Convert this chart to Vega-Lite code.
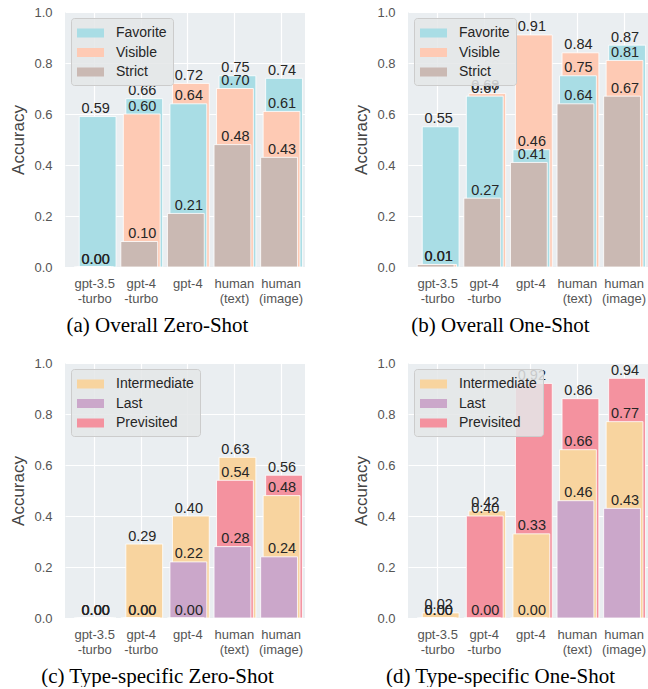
{
  "$schema": "https://vega.github.io/schema/vega-lite/v6.json",
  "padding": {"left": 9, "top": 6, "right": 0, "bottom": 0},
  "background": "white",
  "config": {
    "font": "Liberation Sans",
    "view": {"fill": "#EAEEF1", "stroke": null},
    "axis": {
      "domain": false, "ticks": false, "tickSize": 0, "grid": true, "gridColor": "white", "gridWidth": 1.2,
      "labelColor": "#555555", "labelFont": "Liberation Sans", "labelFontSize": 13,
      "titleColor": "#444444", "titleFont": "Liberation Sans", "titleFontWeight": "normal", "titleFontSize": 17
    },
    "legend": {
      "orient": "top-left", "offset": 6, "padding": 6, "cornerRadius": 3,
      "fillColor": "rgba(228,230,232,0.85)", "strokeColor": "#CCCCCC",
      "symbolType": "M-1,-0.5H2V0.5H-1Z", "symbolSize": 324, "symbolStrokeWidth": 0, "symbolOpacity": 1,
      "labelFont": "Liberation Sans", "labelFontSize": 14, "labelColor": "#262626", "labelOffset": 21,
      "rowPadding": 3.5, "title": null
    },
    "title": {"font": "Liberation Serif", "fontSize": 21, "fontWeight": "normal", "color": "black", "orient": "bottom", "frame": "bounds", "anchor": "middle", "offset": 10}
  },
  "data": {"values": [
    {"p": "a", "model": "gpt-3.5 -turbo", "series": "Favorite", "value": 0.59},
    {"p": "a", "model": "gpt-3.5 -turbo", "series": "Visible", "value": 0.00},
    {"p": "a", "model": "gpt-3.5 -turbo", "series": "Strict", "value": 0.00},
    {"p": "a", "model": "gpt-4 -turbo", "series": "Favorite", "value": 0.66},
    {"p": "a", "model": "gpt-4 -turbo", "series": "Visible", "value": 0.60},
    {"p": "a", "model": "gpt-4 -turbo", "series": "Strict", "value": 0.10},
    {"p": "a", "model": "gpt-4", "series": "Favorite", "value": 0.64},
    {"p": "a", "model": "gpt-4", "series": "Visible", "value": 0.72},
    {"p": "a", "model": "gpt-4", "series": "Strict", "value": 0.21},
    {"p": "a", "model": "human (text)", "series": "Favorite", "value": 0.75},
    {"p": "a", "model": "human (text)", "series": "Visible", "value": 0.70},
    {"p": "a", "model": "human (text)", "series": "Strict", "value": 0.48},
    {"p": "a", "model": "human (image)", "series": "Favorite", "value": 0.74},
    {"p": "a", "model": "human (image)", "series": "Visible", "value": 0.61},
    {"p": "a", "model": "human (image)", "series": "Strict", "value": 0.43},
    {"p": "b", "model": "gpt-3.5 -turbo", "series": "Favorite", "value": 0.55},
    {"p": "b", "model": "gpt-3.5 -turbo", "series": "Visible", "value": 0.01},
    {"p": "b", "model": "gpt-3.5 -turbo", "series": "Strict", "value": 0.01},
    {"p": "b", "model": "gpt-4 -turbo", "series": "Favorite", "value": 0.67},
    {"p": "b", "model": "gpt-4 -turbo", "series": "Visible", "value": 0.68},
    {"p": "b", "model": "gpt-4 -turbo", "series": "Strict", "value": 0.27},
    {"p": "b", "model": "gpt-4", "series": "Favorite", "value": 0.46},
    {"p": "b", "model": "gpt-4", "series": "Visible", "value": 0.91},
    {"p": "b", "model": "gpt-4", "series": "Strict", "value": 0.41},
    {"p": "b", "model": "human (text)", "series": "Favorite", "value": 0.75},
    {"p": "b", "model": "human (text)", "series": "Visible", "value": 0.84},
    {"p": "b", "model": "human (text)", "series": "Strict", "value": 0.64},
    {"p": "b", "model": "human (image)", "series": "Favorite", "value": 0.87},
    {"p": "b", "model": "human (image)", "series": "Visible", "value": 0.81},
    {"p": "b", "model": "human (image)", "series": "Strict", "value": 0.67},
    {"p": "c", "model": "gpt-3.5 -turbo", "series": "Intermediate", "value": 0.00},
    {"p": "c", "model": "gpt-3.5 -turbo", "series": "Last", "value": 0.00},
    {"p": "c", "model": "gpt-3.5 -turbo", "series": "Previsited", "value": 0.00},
    {"p": "c", "model": "gpt-4 -turbo", "series": "Intermediate", "value": 0.29},
    {"p": "c", "model": "gpt-4 -turbo", "series": "Last", "value": 0.00},
    {"p": "c", "model": "gpt-4 -turbo", "series": "Previsited", "value": 0.00},
    {"p": "c", "model": "gpt-4", "series": "Intermediate", "value": 0.40},
    {"p": "c", "model": "gpt-4", "series": "Last", "value": 0.22},
    {"p": "c", "model": "gpt-4", "series": "Previsited", "value": 0.00},
    {"p": "c", "model": "human (text)", "series": "Intermediate", "value": 0.63},
    {"p": "c", "model": "human (text)", "series": "Last", "value": 0.28},
    {"p": "c", "model": "human (text)", "series": "Previsited", "value": 0.54},
    {"p": "c", "model": "human (image)", "series": "Intermediate", "value": 0.48},
    {"p": "c", "model": "human (image)", "series": "Last", "value": 0.24},
    {"p": "c", "model": "human (image)", "series": "Previsited", "value": 0.56},
    {"p": "d", "model": "gpt-3.5 -turbo", "series": "Intermediate", "value": 0.02},
    {"p": "d", "model": "gpt-3.5 -turbo", "series": "Last", "value": 0.00},
    {"p": "d", "model": "gpt-3.5 -turbo", "series": "Previsited", "value": 0.00},
    {"p": "d", "model": "gpt-4 -turbo", "series": "Intermediate", "value": 0.42},
    {"p": "d", "model": "gpt-4 -turbo", "series": "Last", "value": 0.00},
    {"p": "d", "model": "gpt-4 -turbo", "series": "Previsited", "value": 0.40},
    {"p": "d", "model": "gpt-4", "series": "Intermediate", "value": 0.33},
    {"p": "d", "model": "gpt-4", "series": "Last", "value": 0.00},
    {"p": "d", "model": "gpt-4", "series": "Previsited", "value": 0.92},
    {"p": "d", "model": "human (text)", "series": "Intermediate", "value": 0.66},
    {"p": "d", "model": "human (text)", "series": "Last", "value": 0.46},
    {"p": "d", "model": "human (text)", "series": "Previsited", "value": 0.86},
    {"p": "d", "model": "human (image)", "series": "Intermediate", "value": 0.77},
    {"p": "d", "model": "human (image)", "series": "Last", "value": 0.43},
    {"p": "d", "model": "human (image)", "series": "Previsited", "value": 0.94}
  ]},
  "spacing": 21,
  "resolve": {"scale": {"color": "independent"}, "legend": {"color": "independent"}},
  "vconcat": [
    {
      "spacing": 47,
      "resolve": {"scale": {"color": "independent"}, "legend": {"color": "independent"}},
      "hconcat": [
        {
          "width": 240, "height": 255,
          "title": "(a) Overall Zero-Shot",
          "transform": [{"filter": "datum.p == 'a'"}, {"window": [{"op": "row_number", "as": "rk"}], "groupby": ["model"], "sort": [{"field": "value", "order": "descending"}]}],
          "encoding": {
            "x": {"field": "model", "type": "nominal", "sort": ["gpt-3.5 -turbo", "gpt-4 -turbo", "gpt-4", "human (text)", "human (image)"], "scale": {"paddingInner": 0.21, "paddingOuter": 0.18, "align": 0.67}, "axis": {"title": null, "labelAngle": 0, "labelPadding": 10, "labelLineHeight": 15, "bandPosition": 0.5, "labelExpr": "split(datum.label, ' ')"}},
            "y": {"field": "value", "type": "quantitative", "stack": null, "scale": {"domain": [0, 1]}, "axis": {"title": "Accuracy", "values": [0, 0.2, 0.4, 0.6, 0.8, 1.0], "format": ".1f", "labelPadding": 13, "titlePadding": 6}}
          },
          "layer": [
            {"mark": {"type": "bar", "stroke": "white", "strokeWidth": 1, "strokeOpacity": 0.8, "xOffset": {"expr": "5.5 - 2.5 * datum.rk"}},
             "encoding": {"color": {"field": "series", "type": "nominal", "scale": {"domain": ["Favorite", "Visible", "Strict"], "range": ["#A9DDE5", "#FECAB4", "#CAB9B3"]}, "legend": {"labelLimit": 61}}, "order": {"field": "value", "sort": "descending"}}},
            {"mark": {"type": "text", "align": "center", "baseline": "alphabetic", "dy": -3.5, "fontSize": 14.5, "color": "#262626", "xOffset": 1},
             "encoding": {"text": {"field": "value", "type": "quantitative", "format": ".2f"}}}
          ]
        },
        {
          "width": 240, "height": 255,
          "title": "(b) Overall One-Shot",
          "transform": [{"filter": "datum.p == 'b'"}, {"window": [{"op": "row_number", "as": "rk"}], "groupby": ["model"], "sort": [{"field": "value", "order": "descending"}]}],
          "encoding": {
            "x": {"field": "model", "type": "nominal", "sort": ["gpt-3.5 -turbo", "gpt-4 -turbo", "gpt-4", "human (text)", "human (image)"], "scale": {"paddingInner": 0.21, "paddingOuter": 0.18, "align": 0.67}, "axis": {"title": null, "labelAngle": 0, "labelPadding": 10, "labelLineHeight": 15, "bandPosition": 0.5, "labelExpr": "split(datum.label, ' ')"}},
            "y": {"field": "value", "type": "quantitative", "stack": null, "scale": {"domain": [0, 1]}, "axis": {"title": "Accuracy", "values": [0, 0.2, 0.4, 0.6, 0.8, 1.0], "format": ".1f", "labelPadding": 13, "titlePadding": 6}}
          },
          "layer": [
            {"mark": {"type": "bar", "stroke": "white", "strokeWidth": 1, "strokeOpacity": 0.8, "xOffset": {"expr": "5.5 - 2.5 * datum.rk"}},
             "encoding": {"color": {"field": "series", "type": "nominal", "scale": {"domain": ["Favorite", "Visible", "Strict"], "range": ["#A9DDE5", "#FECAB4", "#CAB9B3"]}, "legend": {"labelLimit": 61}}, "order": {"field": "value", "sort": "descending"}}},
            {"mark": {"type": "text", "align": "center", "baseline": "alphabetic", "dy": -3.5, "fontSize": 14.5, "color": "#262626", "xOffset": 1},
             "encoding": {"text": {"field": "value", "type": "quantitative", "format": ".2f"}}}
          ]
        }
      ]
    },
    {
      "spacing": 47,
      "resolve": {"scale": {"color": "independent"}, "legend": {"color": "independent"}},
      "hconcat": [
        {
          "width": 240, "height": 255,
          "title": "(c) Type-specific Zero-Shot",
          "transform": [{"filter": "datum.p == 'c'"}, {"window": [{"op": "row_number", "as": "rk"}], "groupby": ["model"], "sort": [{"field": "value", "order": "descending"}]}],
          "encoding": {
            "x": {"field": "model", "type": "nominal", "sort": ["gpt-3.5 -turbo", "gpt-4 -turbo", "gpt-4", "human (text)", "human (image)"], "scale": {"paddingInner": 0.21, "paddingOuter": 0.18, "align": 0.67}, "axis": {"title": null, "labelAngle": 0, "labelPadding": 10, "labelLineHeight": 15, "bandPosition": 0.5, "labelExpr": "split(datum.label, ' ')"}},
            "y": {"field": "value", "type": "quantitative", "stack": null, "scale": {"domain": [0, 1]}, "axis": {"title": "Accuracy", "values": [0, 0.2, 0.4, 0.6, 0.8, 1.0], "format": ".1f", "labelPadding": 13, "titlePadding": 6}}
          },
          "layer": [
            {"mark": {"type": "bar", "stroke": "white", "strokeWidth": 1, "strokeOpacity": 0.8, "xOffset": {"expr": "5.5 - 2.5 * datum.rk"}},
             "encoding": {"color": {"field": "series", "type": "nominal", "scale": {"domain": ["Intermediate", "Last", "Previsited"], "range": ["#F8D49F", "#CBA7CA", "#F4929F"]}}, "order": {"field": "value", "sort": "descending"}}},
            {"mark": {"type": "text", "align": "center", "baseline": "alphabetic", "dy": -3.5, "fontSize": 14.5, "color": "#262626", "xOffset": 1},
             "encoding": {"text": {"field": "value", "type": "quantitative", "format": ".2f"}}}
          ]
        },
        {
          "width": 240, "height": 255,
          "title": "(d) Type-specific One-Shot",
          "transform": [{"filter": "datum.p == 'd'"}, {"window": [{"op": "row_number", "as": "rk"}], "groupby": ["model"], "sort": [{"field": "value", "order": "descending"}]}],
          "encoding": {
            "x": {"field": "model", "type": "nominal", "sort": ["gpt-3.5 -turbo", "gpt-4 -turbo", "gpt-4", "human (text)", "human (image)"], "scale": {"paddingInner": 0.21, "paddingOuter": 0.18, "align": 0.67}, "axis": {"title": null, "labelAngle": 0, "labelPadding": 10, "labelLineHeight": 15, "bandPosition": 0.5, "labelExpr": "split(datum.label, ' ')"}},
            "y": {"field": "value", "type": "quantitative", "stack": null, "scale": {"domain": [0, 1]}, "axis": {"title": "Accuracy", "values": [0, 0.2, 0.4, 0.6, 0.8, 1.0], "format": ".1f", "labelPadding": 13, "titlePadding": 6}}
          },
          "layer": [
            {"mark": {"type": "bar", "stroke": "white", "strokeWidth": 1, "strokeOpacity": 0.8, "xOffset": {"expr": "5.5 - 2.5 * datum.rk"}},
             "encoding": {"color": {"field": "series", "type": "nominal", "scale": {"domain": ["Intermediate", "Last", "Previsited"], "range": ["#F8D49F", "#CBA7CA", "#F4929F"]}}, "order": {"field": "value", "sort": "descending"}}},
            {"mark": {"type": "text", "align": "center", "baseline": "alphabetic", "dy": -3.5, "fontSize": 14.5, "color": "#262626", "xOffset": 1},
             "encoding": {"text": {"field": "value", "type": "quantitative", "format": ".2f"}}}
          ]
        }
      ]
    }
  ]
}
